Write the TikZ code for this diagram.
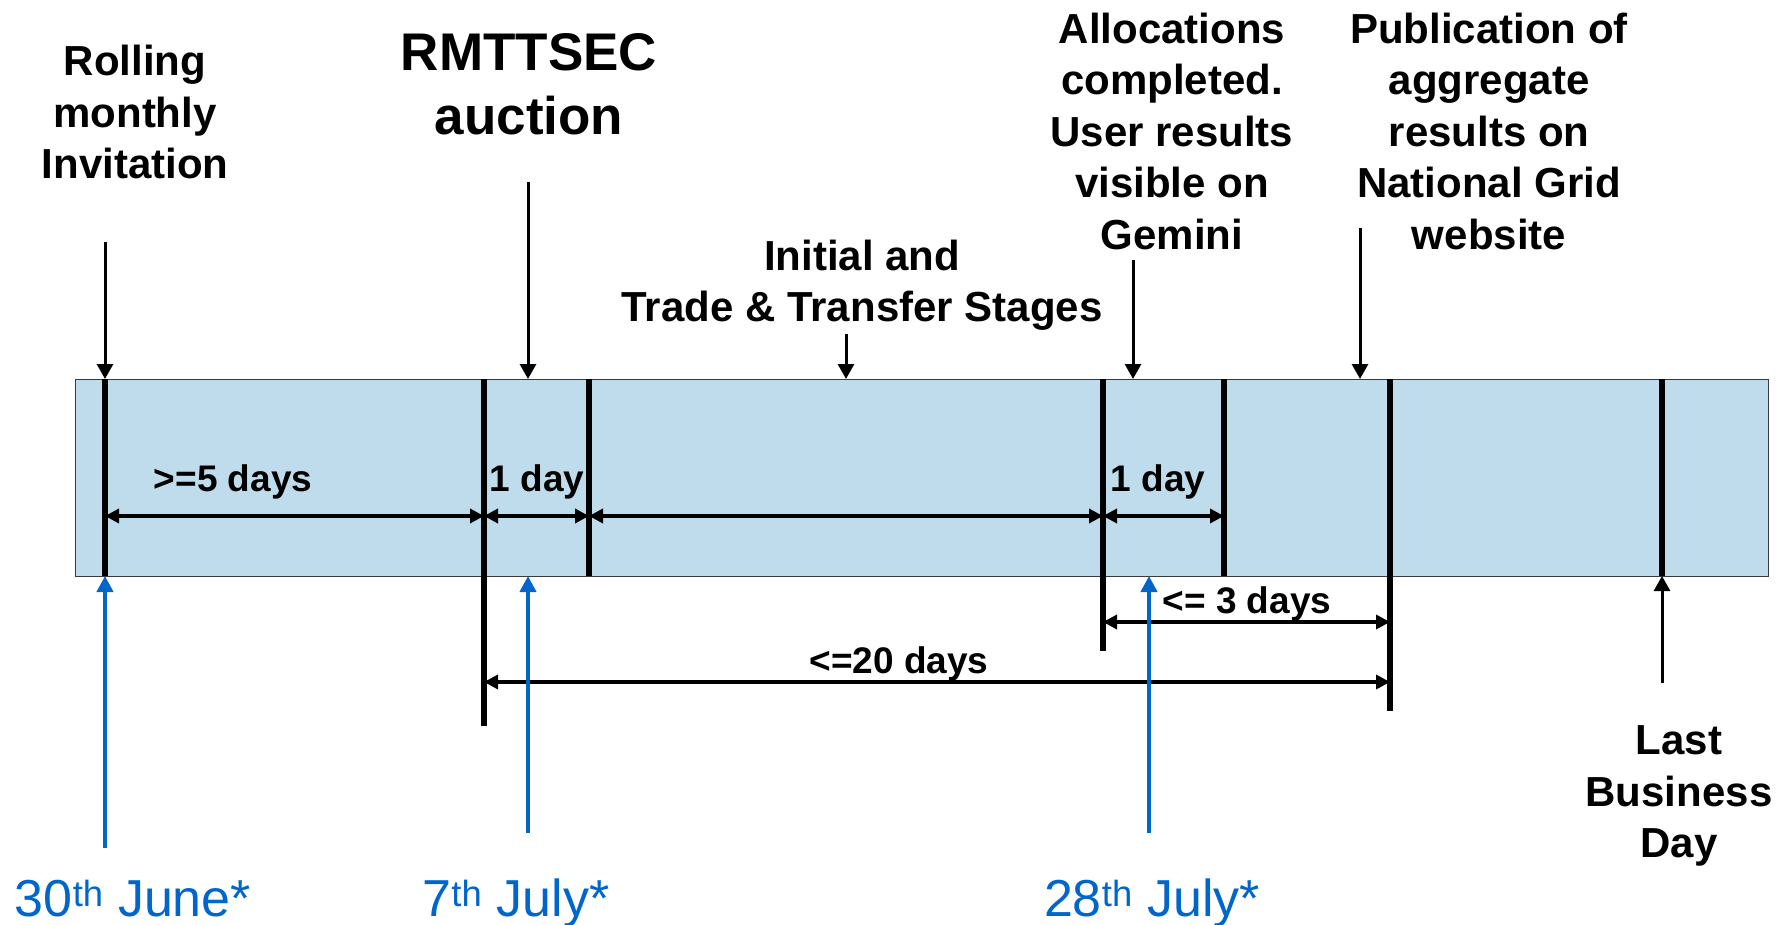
\documentclass[tikz,border=0pt]{standalone}
\usepackage{fontspec}
\setmainfont{Liberation Sans}
\usetikzlibrary{arrows.meta}
\definecolor{barfill}{HTML}{BEDCEC}
\definecolor{dateblue}{HTML}{0066CC}
\definecolor{barline}{HTML}{3A3A3A}
\begin{document}
\begin{tikzpicture}[x=1pt,y=-1pt,
  tick/.style={line width=5.5pt},
  dim/.style={line width=3.5pt,{Triangle[length=14pt,width=14pt]}-{Triangle[length=14pt,width=14pt]}},
  pointer/.style={line width=3pt,-{Triangle[length=15pt,width=16pt]}},
  bluepointer/.style={line width=4pt,-{Triangle[length=16pt,width=16pt]},draw=dateblue,fill=dateblue},
  lbl/.style={font=\fontsize{42}{51.5}\selectfont\bfseries,align=center,inner sep=0pt},
  biglbl/.style={font=\fontsize{53}{64}\selectfont\bfseries,align=center,inner sep=0pt},
  daylbl/.style={font=\fontsize{37}{44}\selectfont\bfseries,inner sep=0pt},
  datelbl/.style={font=\fontsize{52}{60}\selectfont,text=dateblue,inner sep=0pt,anchor=base}]
\useasboundingbox (0,0) rectangle (1785,925);
% bar
\node[draw=barline,line width=1pt,fill=barfill,minimum width=1693pt,minimum height=197pt,inner sep=0pt,anchor=north west] (bar) at (75,379) {};
% tick coordinates
\coordinate (atop) at (105,379); \coordinate (abot) at (105,576); \coordinate (amid) at (105,516);
\coordinate (btop) at (484,379); \coordinate (bbot) at (484,726); \coordinate (bmid) at (484,516);
\coordinate (ctop) at (589,379); \coordinate (cbot) at (589,576); \coordinate (cmid) at (589,516);
\coordinate (dtop) at (1103,379); \coordinate (dbot) at (1103,651); \coordinate (dmid) at (1103,516);
\coordinate (etop) at (1224,379); \coordinate (ebot) at (1224,576); \coordinate (emid) at (1224,516);
\coordinate (ftop) at (1390,379); \coordinate (fbot) at (1390,711);
\coordinate (gtop) at (1662,379); \coordinate (gbot) at (1662,576);
\draw[tick] (atop) -- (abot);
\draw[tick] (btop) -- (bbot);
\draw[tick] (ctop) -- (cbot);
\draw[tick] (dtop) -- (dbot);
\draw[tick] (etop) -- (ebot);
\draw[tick] (ftop) -- (fbot);
\draw[tick] (gtop) -- (gbot);
% dimension arrows in bar
\draw[dim] (amid) -- (bmid);
\draw[dim] (bmid) -- (cmid);
\draw[dim] (cmid) -- (dmid);
\draw[dim] (dmid) -- (emid);
\coordinate (d3) at (1103,622); \coordinate (f3) at (1390,622);
\draw[dim] (d3) -- (f3);
\coordinate (b20) at (484,682); \coordinate (f20) at (1390,682);
\draw[dim] (b20) -- (f20);
\node[daylbl] (l5) at (233,482) {>=5 days};
\node[daylbl] (l1a) at (537,482) {1 day};
\node[daylbl] (l1b) at (1158,482) {1 day};
\node[daylbl] (l3) at (1247,604) {<= 3 days};
\node[daylbl] (l20) at (899,664) {<=20 days};
% top labels
\node[lbl] (inv) at (135,112) {Rolling\\monthly\\Invitation};
\node[biglbl] (auc) at (529,84) {RMTTSEC\\auction};
\node[lbl] (its) at (862,285) {Initial and\\Trade \& Transfer Stages};
\node[lbl] (alloc) at (1172,131) {Allocations\\completed.\\User results\\visible on\\Gemini};
\node[lbl] (pub) at (1489,131) {Publication of\\aggregate\\results on\\National Grid\\website};
\node[lbl] (lbd) at (1679,796) {Last\\Business\\Day};
% top pointers
\coordinate (p1s) at (105,242); \coordinate (p1e) at (105,379);
\coordinate (p2s) at (528,182); \coordinate (p2e) at (528,379);
\coordinate (p3s) at (846,334); \coordinate (p3e) at (846,379);
\coordinate (p4s) at (1133,260); \coordinate (p4e) at (1133,379);
\coordinate (p5s) at (1360,228); \coordinate (p5e) at (1360,379);
\draw[pointer] (p1s) -- (p1e);
\draw[pointer] (p2s) -- (p2e);
\draw[pointer] (p3s) -- (p3e);
\draw[pointer] (p4s) -- (p4e);
\draw[pointer] (p5s) -- (p5e);
% last business day pointer
\coordinate (lbs) at (1662,683);
\draw[pointer] (lbs) -- (gbot);
% blue date pointers
\coordinate (q1s) at (105,848); \coordinate (q1e) at (105,576);
\coordinate (q2s) at (528,833); \coordinate (q2e) at (528,576);
\coordinate (q3s) at (1149,833); \coordinate (q3e) at (1149,576);
\draw[bluepointer] (q1s) -- (q1e);
\draw[bluepointer] (q2s) -- (q2e);
\draw[bluepointer] (q3s) -- (q3e);
\node[datelbl] (d30) at (133,916) {30\textsuperscript{th} June*};
\node[datelbl] (d7) at (516,916) {7\textsuperscript{th} July*};
\node[datelbl] (d28) at (1152,916) {28\textsuperscript{th} July*};
\end{tikzpicture}
\end{document}
